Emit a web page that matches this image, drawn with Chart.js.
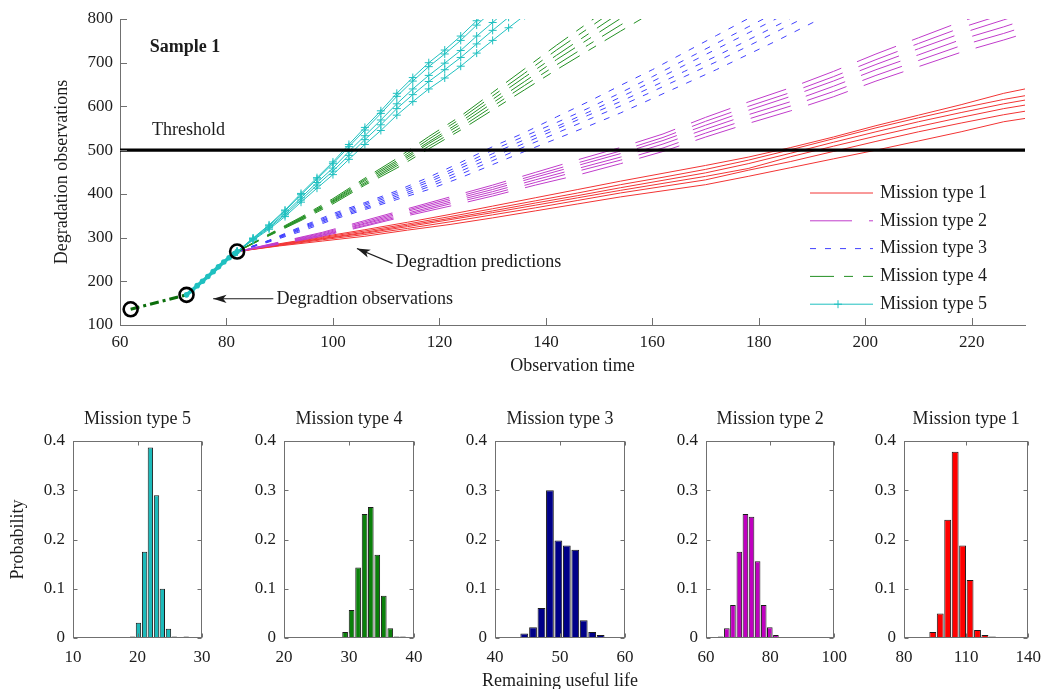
<!DOCTYPE html>
<html>
<head>
<meta charset="utf-8">
<script src="https://cdn.jsdelivr.net/npm/chart.js@4.4.1/dist/chart.umd.min.js"></script>
<style>
  html, body { margin: 0; padding: 0; background: #fff; }
  #page { position: relative; width: 1050px; height: 689px; overflow: hidden; background: #fff; }
  #page canvas { position: absolute; }
</style>
</head>
<body>
<div id="page">
  <canvas id="main" width="1050" height="380" style="left:0;top:0;width:1050px;height:380px"></canvas>
  <canvas id="h5" width="222" height="292" style="left:0;top:400px;width:222px;height:292px"></canvas>
  <canvas id="h4" width="210" height="292" style="left:224px;top:400px;width:210px;height:292px"></canvas>
  <canvas id="h3" width="210" height="292" style="left:435px;top:400px;width:210px;height:292px"></canvas>
  <canvas id="h2" width="210" height="292" style="left:646px;top:400px;width:210px;height:292px"></canvas>
  <canvas id="h1" width="206" height="292" style="left:844px;top:400px;width:206px;height:292px"></canvas>
</div>
<script>
const INK = "#1c1c1c";
const AXIS = "#707070";
const SERIF = "'Liberation Serif', 'Times New Roman', serif";

Chart.defaults.font.family = SERIF;
Chart.defaults.font.size = 17;
Chart.defaults.color = INK;
Chart.defaults.animation = false;

// ---- degradation path (observed part)
const obsX = [62, 72.5, 82];
const obsY = [136, 169, 268];
const trailX = [72.5, 73.5, 74.5, 75.5, 76.5, 77.5, 78.5, 79.5, 80.5, 81.5, 82];
const trailY = [169, 179, 190, 200, 211, 222, 233, 244, 254, 263, 268];

const thresholdX = [60, 230];
const thresholdY = [500, 500];

// ---- predicted paths, one array per simulated path
const m1X = [82, 90, 98, 106, 114, 122, 130, 138, 146, 154, 162, 170, 178, 186, 194, 202, 210, 218, 226, 234];
const m1Lines = [
  [268, 281, 292, 303, 317, 330, 345, 361, 377, 393, 407, 421, 440, 460, 480, 500, 521, 542, 565, 580],
  [268, 282, 295, 307, 321, 336, 352, 368, 385, 402, 417, 432, 454, 474, 497, 520, 542, 562, 581, 597],
  [268, 283, 297, 310, 325, 341, 357, 374, 391, 408, 424, 440, 458, 485, 509, 532, 554, 575, 595, 611],
  [268, 284, 298, 312, 328, 344, 361, 379, 396, 414, 431, 448, 469, 493, 518, 542, 565, 586, 606, 623],
  [268, 285, 300, 315, 331, 348, 366, 384, 402, 421, 438, 456, 477, 501, 526, 551, 574, 596, 616, 633],
  [268, 286, 302, 318, 335, 353, 372, 391, 410, 429, 447, 465, 484, 506, 530, 556, 580, 604, 630, 650],
];

const m2X = [82, 90, 98, 106, 114, 122, 130, 138, 146, 154, 162, 170, 178, 186, 194, 202, 210, 218, 226, 234];
const m2Lines = [
  [268, 285, 303, 326, 350, 372, 395, 420, 443, 469, 497, 530, 561, 590, 622, 658, 691, 724, 752, 782],
  [268, 286, 305, 328, 353, 377, 400, 426, 452, 477, 505, 539, 571, 601, 634, 671, 705, 739, 767, 798],
  [268, 287, 306, 331, 356, 381, 405, 432, 458, 484, 514, 548, 581, 611, 646, 684, 718, 753, 782, 814],
  [268, 288, 308, 333, 360, 385, 410, 438, 465, 492, 522, 557, 591, 623, 658, 696, 732, 767, 798, 830],
  [268, 289, 310, 336, 363, 389, 415, 443, 471, 498, 529, 566, 600, 632, 668, 707, 744, 780, 811, 844],
  [268, 290, 312, 339, 366, 393, 420, 449, 478, 506, 537, 575, 610, 643, 680, 720, 757, 794, 826, 860],
];

const m3X = [82, 88, 94, 100, 106, 112, 118, 124, 130, 136, 142, 148, 154, 160, 166, 172, 178, 184, 190, 196];
const m3Lines = [
  [268, 290, 314, 341, 364, 387, 410, 437, 467, 497, 526, 555, 585, 618, 651, 684, 719, 754, 791, 826],
  [268, 291, 317, 344, 367, 391, 416, 445, 476, 508, 539, 570, 601, 634, 668, 702, 738, 775, 812, 849],
  [268, 292, 319, 347, 370, 395, 421, 452, 484, 516, 548, 580, 611, 645, 680, 715, 752, 789, 827, 863],
  [268, 293, 321, 349, 374, 399, 427, 459, 492, 524, 554, 587, 621, 657, 694, 731, 768, 805, 843, 881],
  [268, 293, 323, 352, 377, 403, 432, 465, 500, 532, 563, 596, 631, 668, 706, 744, 782, 820, 858, 896],
  [268, 294, 325, 355, 380, 407, 438, 472, 508, 540, 576, 611, 648, 684, 723, 762, 801, 839, 877, 915],
];

const m4X = [82, 88, 94, 100, 106, 112, 118, 124, 130, 136, 142, 148, 154, 160];
const m4Lines = [
  [268, 304, 339, 377, 420, 459, 503, 546, 592, 638, 684, 728, 772, 815],
  [268, 305, 341, 380, 423, 464, 509, 552, 600, 648, 695, 741, 786, 831],
  [268, 306, 342, 382, 426, 468, 515, 559, 608, 657, 707, 754, 801, 849],
  [268, 306, 344, 384, 430, 472, 519, 565, 616, 667, 717, 766, 815, 861],
  [268, 307, 345, 386, 433, 476, 525, 572, 624, 676, 729, 779, 830, 879],
  [268, 308, 347, 389, 436, 481, 531, 578, 632, 686, 740, 792, 844, 895],
];

const m5X = [82, 85, 88, 91, 94, 97, 100, 103, 106, 109, 112, 115, 118, 121, 124, 127, 130, 133, 136];
const m5Lines = [
  [268, 294, 319, 348, 381, 413, 444, 479, 513, 545, 580, 611, 640, 665, 692, 722, 751, 780, 808],
  [268, 295, 322, 352, 386, 420, 452, 488, 524, 558, 595, 627, 657, 684, 712, 743, 774, 804, 835],
  [268, 297, 324, 356, 391, 426, 459, 497, 533, 569, 606, 640, 671, 699, 728, 761, 792, 824, 856],
  [268, 298, 327, 361, 398, 434, 469, 508, 546, 584, 623, 658, 691, 720, 751, 786, 819, 852, 885],
  [268, 299, 329, 363, 401, 437, 473, 513, 552, 590, 630, 666, 700, 729, 761, 796, 830, 864, 898],
];

const legendLabels = ["Mission type 1", "Mission type 2", "Mission type 3", "Mission type 4", "Mission type 5"];

// ---- remaining useful life histograms (bin centres, probability)
const rul5X = [19.25, 20.15, 21.1, 22.0, 22.95, 23.85, 24.8, 25.7, 26.65, 27.55];
const rul5P = [0.003, 0.031, 0.175, 0.387, 0.29, 0.1, 0.019, 0.003, 0, 0.003];
const rul4X = [29.4, 30.4, 31.4, 32.4, 33.35, 34.35, 35.35, 36.35, 37.35, 38.3];
const rul4P = [0.012, 0.057, 0.143, 0.252, 0.266, 0.169, 0.086, 0.02, 0.003, 0.003];
const rul3X = [44.5, 45.85, 47.15, 48.45, 49.75, 51.05, 52.35, 53.65, 54.95, 56.25];
const rul3P = [0.009, 0.022, 0.061, 0.3, 0.198, 0.188, 0.179, 0.036, 0.012, 0.006];
const rul2X = [64.6, 66.5, 68.4, 70.4, 72.3, 74.2, 76.1, 78.0, 79.9, 81.8];
const rul2P = [0.003, 0.02, 0.067, 0.175, 0.252, 0.246, 0.156, 0.067, 0.022, 0.006];
const rul1X = [90.3, 93.9, 97.5, 101.1, 104.7, 108.3, 111.9, 115.5, 119.1, 122.7];
const rul1P = [0.002, 0.012, 0.05, 0.24, 0.378, 0.188, 0.118, 0.016, 0.006, 0.003];

const missionStyles = [
  { color: "#f23434", dash: [] },
  { color: "#c03ccb", dash: [42, 17] },
  { color: "#4040ff", dash: [6, 9] },
  { color: "#239023", dash: [24, 10, 9, 10] },
  { color: "#1fc0c0", dash: [], marker: "cross" },
];

const pts = (xs, ys) => xs.map((x, i) => ({ x, y: ys[i] }));

function bundle(xs, lines, style) {
  return lines.map(ys => ({
    data: pts(xs, ys),
    borderColor: style.color,
    backgroundColor: style.color,
    borderWidth: 1,
    borderDash: style.dash,
    pointRadius: style.marker ? 4 : 0,
    pointStyle: style.marker || "circle",
    pointBorderWidth: 1,
    tension: 0,
  }));
}

function line(ctx, x0, y0, x1, y1) {
  ctx.beginPath();
  ctx.moveTo(x0, y0);
  ctx.lineTo(x1, y1);
  ctx.stroke();
}

function arrow(ctx, x0, y0, x1, y1) {
  const ang = Math.atan2(y1 - y0, x1 - x0);
  line(ctx, x0, y0, x1, y1);
  ctx.beginPath();
  ctx.moveTo(x1, y1);
  ctx.lineTo(x1 - 14 * Math.cos(ang - 0.3), y1 - 14 * Math.sin(ang - 0.3));
  ctx.lineTo(x1 - 10 * Math.cos(ang), y1 - 10 * Math.sin(ang));
  ctx.lineTo(x1 - 14 * Math.cos(ang + 0.3), y1 - 14 * Math.sin(ang + 0.3));
  ctx.closePath();
  ctx.fill();
}

const topDecor = {
  id: "topDecor",
  afterDraw(chart) {
    const { ctx, chartArea: a, scales: { x, y } } = chart;
    ctx.save();

    // inward tick marks
    ctx.strokeStyle = AXIS;
    ctx.lineWidth = 1;
    x.ticks.forEach(t => {
      const px = Math.round(x.getPixelForValue(t.value)) + 0.5;
      line(ctx, px, a.bottom, px, a.bottom - 7);
    });
    y.ticks.forEach(t => {
      const py = Math.round(y.getPixelForValue(t.value)) + 0.5;
      line(ctx, a.left, py, a.left + 7, py);
    });

    // notes
    ctx.fillStyle = INK;
    ctx.strokeStyle = INK;
    ctx.textBaseline = "middle";
    ctx.textAlign = "left";
    ctx.font = "bold 18px " + SERIF;
    ctx.fillText("Sample 1", x.getPixelForValue(65.6), y.getPixelForValue(736));
    ctx.font = "18px " + SERIF;
    ctx.fillText("Threshold", x.getPixelForValue(66), y.getPixelForValue(546));
    ctx.fillText("Degradtion observations", x.getPixelForValue(89.4), y.getPixelForValue(160));
    ctx.fillText("Degradtion predictions", x.getPixelForValue(111.8), y.getPixelForValue(243));

    ctx.lineWidth = 1.2;
    arrow(ctx, x.getPixelForValue(88.8), y.getPixelForValue(160), x.getPixelForValue(77.5), y.getPixelForValue(160));
    arrow(ctx, x.getPixelForValue(111.2), y.getPixelForValue(241), x.getPixelForValue(104.5), y.getPixelForValue(275));

    // legend
    legendLabels.forEach((label, i) => {
      const st = missionStyles[i];
      const ly = 193 + i * 27.8;
      ctx.strokeStyle = st.color;
      ctx.lineWidth = 1;
      ctx.setLineDash(st.dash);
      line(ctx, 810, ly, 873, ly);
      ctx.setLineDash([]);
      if (st.marker) {
        line(ctx, 838, ly - 4, 838, ly + 4);
        line(ctx, 834, ly, 842, ly);
      }
      ctx.fillStyle = INK;
      ctx.fillText(label, 880, ly);
    });
    ctx.restore();
  },
};

const datasets = [
  {
    data: pts(obsX, obsY),
    showLine: false,
    pointRadius: 7,
    pointBorderWidth: 2.6,
    pointBorderColor: "#000",
    pointBackgroundColor: "rgba(0,0,0,0)",
  },
  {
    data: pts(trailX, trailY),
    borderColor: "#1fc0c0",
    backgroundColor: "#1fc0c0",
    borderWidth: 3.5,
    pointRadius: 2.8,
    pointBorderWidth: 0,
  },
  {
    data: pts(obsX.slice(0, 2), obsY.slice(0, 2)),
    borderColor: "#0b6e0b",
    borderWidth: 3,
    borderDash: [9, 4, 3, 4],
    pointRadius: 0,
  },
  {
    data: pts(thresholdX, thresholdY),
    borderColor: "#000",
    borderWidth: 3.2,
    pointRadius: 0,
  },
  ...bundle(m5X, m5Lines, missionStyles[4]),
  ...bundle(m4X, m4Lines, missionStyles[3]),
  ...bundle(m3X, m3Lines, missionStyles[2]),
  ...bundle(m2X, m2Lines, missionStyles[1]),
  ...bundle(m1X, m1Lines, missionStyles[0]),
];

new Chart(document.getElementById("main"), {
  type: "line",
  data: { datasets },
  options: {
    responsive: false,
    layout: { padding: { top: 19, right: 25, left: 0, bottom: 0 } },
    plugins: { legend: { display: false }, tooltip: { enabled: false } },
    scales: {
      x: {
        type: "linear",
        min: 60,
        max: 230,
        grid: { display: false, drawTicks: false },
        border: { display: true, color: AXIS, width: 1 },
        ticks: { stepSize: 20, includeBounds: false, padding: 7, maxRotation: 0 },
        title: { display: true, text: "Observation time", font: { size: 18 }, padding: { top: 0, bottom: 3 } },
        afterFit: s => { s.height = 55; },
      },
      y: {
        min: 100,
        max: 800,
        grid: { display: false, drawTicks: false },
        border: { display: true, color: AXIS, width: 1 },
        ticks: { stepSize: 100, padding: 7 },
        title: { display: true, text: "Degradation observations", font: { size: 18 }, padding: { top: 51, bottom: 0 } },
        afterFit: s => { s.width = 120; },
      },
    },
  },
  plugins: [topDecor],
});

// ---- bottom histograms
const boxTicks = {
  id: "boxTicks",
  afterDraw(chart) {
    const { ctx, chartArea: a, scales: { x, y } } = chart;
    ctx.save();
    ctx.strokeStyle = AXIS;
    ctx.lineWidth = 1;
    const l = Math.round(a.left) + 0.5, r = Math.round(a.right) - 0.5;
    const t = Math.round(a.top) + 0.5, b = Math.round(a.bottom) - 0.5;
    ctx.strokeRect(l, t, r - l, b - t);
    x.ticks.forEach(tk => {
      const px = Math.round(x.getPixelForValue(tk.value)) + 0.5;
      line(ctx, px, b, px, b - 4);
      line(ctx, px, t, px, t + 4);
    });
    y.ticks.forEach(tk => {
      const py = Math.round(y.getPixelForValue(tk.value)) + 0.5;
      line(ctx, l, py, l + 4, py);
      line(ctx, r, py, r - 4, py);
    });

    // shared x label sits under the middle panel, wider than its axis
    const xTitle = chart.options.plugins.boxTicks.xTitle;
    if (xTitle) {
      ctx.fillStyle = INK;
      ctx.font = "18px " + SERIF;
      ctx.textAlign = "center";
      ctx.textBaseline = "middle";
      ctx.fillText(xTitle, (a.left + a.right) / 2, chart.height - 11);
    }
    ctx.restore();
  },
};

function histChart(id, title, xs, ps, color, xMin, xMax, xStep, yWidth, padRight, extra) {
  return new Chart(document.getElementById(id), {
    type: "bar",
    data: {
      datasets: [{
        data: pts(xs, ps),
        backgroundColor: color,
        borderColor: "#1b1b1b",
        borderWidth: 1,
        barPercentage: 0.92,
        categoryPercentage: 1,
      }],
    },
    options: {
      responsive: false,
      layout: { padding: { top: 8, right: padRight, left: 0, bottom: 0 } },
      plugins: {
        legend: { display: false },
        tooltip: { enabled: false },
        boxTicks: { xTitle: extra.xTitle },
        title: {
          display: true,
          text: title,
          fullSize: false,
          color: INK,
          font: { size: 18, weight: "normal" },
          padding: { top: 0, bottom: 11.4 },
        },
      },
      scales: {
        x: {
          type: "linear",
          min: xMin,
          max: xMax,
          offset: false,
          grid: { display: false, drawTicks: false },
          border: { display: false },
          ticks: { stepSize: xStep, padding: 9, maxRotation: 0, autoSkip: false },
          afterFit: s => { s.height = 54; },
        },
        y: {
          min: 0,
          max: 0.4,
          grid: { display: false, drawTicks: false },
          border: { display: false },
          ticks: { stepSize: 0.1, padding: 8, callback: v => (v === 0 ? "0" : v.toFixed(1)) },
          title: extra.yTitle
            ? { display: true, text: extra.yTitle, font: { size: 18 }, padding: { top: 7, bottom: 0 } }
            : { display: false },
          afterFit: s => { s.width = yWidth; },
        },
      },
    },
    plugins: [boxTicks],
  });
}

histChart("h5", "Mission type 5", rul5X, rul5P, "#1dbaba", 10, 30, 10, 73, 20, { yTitle: "Probability" });
histChart("h4", "Mission type 4", rul4X, rul4P, "#0a800a", 20, 40, 10, 60, 20, {});
histChart("h3", "Mission type 3", rul3X, rul3P, "#000088", 40, 60, 10, 60, 20, { xTitle: "Remaining useful life" });
histChart("h2", "Mission type 2", rul2X, rul2P, "#bf00bf", 60, 100, 20, 60, 20, {});
histChart("h1", "Mission type 1", rul1X, rul1P, "#ff0000", 80, 140, 30, 60, 17, {});
</script>
</body>
</html>
